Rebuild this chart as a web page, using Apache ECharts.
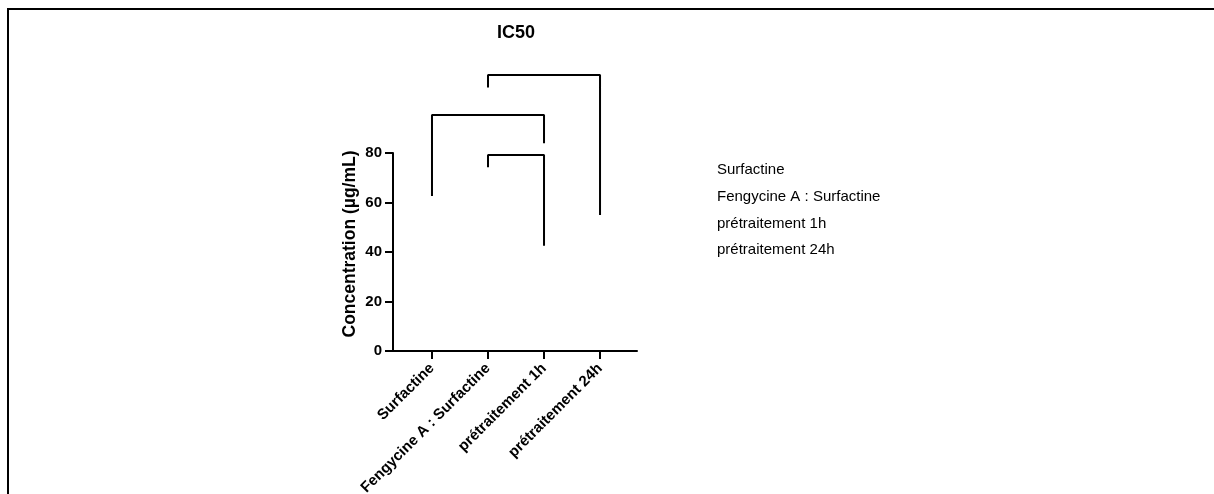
<!DOCTYPE html>
<html>
<head>
<meta charset="utf-8">
<script src="https://cdn.jsdelivr.net/npm/echarts@6/dist/echarts.min.js"></script>
<style>
html, body { margin: 0; padding: 0; background: #fff; }
#main { width: 1214px; height: 494px; }
</style>
</head>
<body>
<div id="main"></div>
<script>
var categories = ['Surfactine', 'Fengycine A : Surfactine', 'prétraitement 1h', 'prétraitement 24h'];
var yTicks = [0, 20, 40, 60, 80];

// comparison brackets: category index of each end, height of the bar and of each leg end
var bracketFrom = [0, 1, 1];
var bracketTo = [2, 2, 3];
var bracketTop = [95.4, 79.2, 111.5];
var bracketLeftEnd = [62.6, 74.2, 106.5];
var bracketRightEnd = [83.9, 42.5, 54.9];

var font = 'Liberation Sans, Arial, sans-serif';
var dom = document.getElementById('main');
var myChart = echarts.init(dom);

var series = [];
for (var i = 0; i < bracketFrom.length; i++) {
    series.push({
        type: 'line',
        symbol: 'none',
        clip: false,
        silent: true,
        animation: false,
        lineStyle: { color: '#000', width: 2 },
        data: [
            [bracketFrom[i], bracketLeftEnd[i]],
            [bracketFrom[i], bracketTop[i]],
            [bracketTo[i], bracketTop[i]],
            [bracketTo[i], bracketRightEnd[i]]
        ]
    });
}
// legend entries (no visible symbol, as in the source)
for (var j = 0; j < categories.length; j++) {
    series.push({ type: 'line', name: categories[j], data: [], symbol: 'none' });
}

var option = {
    animation: false,
    textStyle: { fontFamily: font },
    title: {
        text: 'IC50',
        left: 492,
        top: 19,
        textStyle: { fontFamily: font, fontSize: 18, fontWeight: 'bold', color: '#000' }
    },
    legend: {
        orient: 'vertical',
        left: 707,
        top: 157,
        icon: 'none',
        itemWidth: 0,
        itemHeight: 16,
        itemGap: 11.2,
        selectedMode: false,
        data: categories,
        textStyle: { fontFamily: font, fontSize: 15, color: '#000' }
    },
    grid: { left: 393, top: 153, width: 244, height: 198, containLabel: false, outerBoundsMode: 'none' },
    xAxis: {
        type: 'value',
        min: -0.696,
        max: 3.66,
        splitLine: { show: false },
        axisLine: { onZero: false, lineStyle: { color: '#000', width: 2 } },
        axisTick: { customValues: [0, 1, 2, 3], length: 8, lineStyle: { color: '#000', width: 2 } },
        axisLabel: {
            customValues: [0, 1, 2, 3],
            formatter: function (v) { return categories[Math.round(v)]; },
            rotate: 45,
            margin: 15,
            color: '#000',
            fontFamily: font,
            fontSize: 15,
            fontWeight: 'bold'
        }
    },
    yAxis: {
        type: 'value',
        min: yTicks[0],
        max: yTicks[yTicks.length - 1],
        interval: 20,
        name: 'Concentration (µg/mL)',
        nameLocation: 'middle',
        nameGap: 34,
        nameTextStyle: { fontFamily: font, fontSize: 17.5, fontWeight: 'bold', color: '#000', padding: [0, 0, 0, 16] },
        splitLine: { show: false },
        axisLine: { show: true, onZero: false, lineStyle: { color: '#000', width: 2 } },
        axisTick: { show: true, length: 8, lineStyle: { color: '#000', width: 2 } },
        axisLabel: { margin: 11, color: '#000', fontFamily: font, fontSize: 15, fontWeight: 'bold' }
    },
    graphic: [{
        type: 'rect',
        silent: true,
        shape: { x: 8, y: 9, width: 1230, height: 520 },
        style: { fill: 'none', stroke: '#000', lineWidth: 2 }
    }],
    series: series
};
myChart.setOption(option, true);
</script>
</body>
</html>
